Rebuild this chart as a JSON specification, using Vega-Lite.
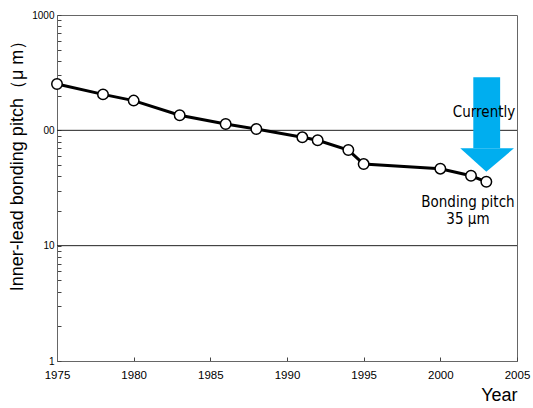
{
  "$schema": "https://vega.github.io/schema/vega-lite/v6.json",
  "width": 460,
  "height": 346,
  "autosize": "none",
  "padding": {"left": 57, "top": 15, "right": 16, "bottom": 47},
  "background": "white",
  "config": {
    "view": {"stroke": "#666", "strokeWidth": 1},
    "font": "Liberation Sans"
  },
  "datasets": {
    "pitch": [
      {"year": 1975, "pitch": 252},
      {"year": 1978, "pitch": 205},
      {"year": 1980, "pitch": 181},
      {"year": 1983, "pitch": 135},
      {"year": 1986, "pitch": 113.5},
      {"year": 1988, "pitch": 102.6},
      {"year": 1991, "pitch": 87},
      {"year": 1992, "pitch": 82},
      {"year": 1994, "pitch": 67.5},
      {"year": 1995, "pitch": 51},
      {"year": 2000, "pitch": 46.5},
      {"year": 2002, "pitch": 40.4},
      {"year": 2003, "pitch": 35.8}
    ],
    "grid": [{"v": 10}, {"v": 100}],
    "shaft": [{"x": 2002.15, "x2": 2003.9, "y": 288, "y2": 69.8}],
    "head": [
      {"x": 2001.3, "y": 69.8, "y2": 69.8},
      {"x": 2003.0, "y": 69.8, "y2": 43.8},
      {"x": 2004.8, "y": 69.8, "y2": 69.8}
    ],
    "labels": [
      {"x": 2002.85, "y": 145, "text": "Currently"},
      {"x": 2001.8, "y": 24, "text": "Bonding pitch"},
      {"x": 2001.8, "y": 17, "text": "35 µm"}
    ]
  },
  "layer": [
    {
      "data": {"name": "grid"},
      "mark": {"type": "rule", "color": "#222", "strokeWidth": 1},
      "encoding": {
        "y": {
          "field": "v",
          "type": "quantitative",
          "scale": {"type": "log", "domain": [1, 1000], "nice": false},
          "axis": {
            "values": [1,2,3,4,5,6,7,8,9,10,20,30,40,50,60,70,80,90,100,200,300,400,500,600,700,800,900,1000],
            "labelExpr": "datum.value == 1000 ? '1000' : datum.value == 100 ? '00' : datum.value == 10 ? '10' : datum.value == 1 ? '1' : ''",
            "tickSize": -4,
            "tickColor": "#444",
            "domainColor": "#666",
            "labelFontSize": 10,
            "labelColor": "#000",
            "labelPadding": 7,
            "labelBaseline": "middle",
            "grid": false,
            "title": "Inner-lead bonding pitch（μ m）",
            "titleFontSize": 18,
            "titleFontWeight": "normal",
            "titleColor": "#000",
            "titleX": -40,
            "titleY": 146,
            "titleAngle": -90,
            "titleBaseline": "middle",
            "titleAlign": "center"
          }
        }
      }
    },
    {
      "data": {"name": "pitch"},
      "mark": {"type": "line", "color": "#000", "strokeWidth": 3},
      "encoding": {
        "x": {
          "field": "year",
          "type": "quantitative",
          "scale": {"domain": [1975, 2005], "nice": false, "zero": false},
          "axis": {
            "values": [1975, 1980, 1985, 1990, 1995, 2000, 2005],
            "format": "d",
            "tickSize": -4,
            "tickColor": "#444",
            "domainColor": "#666",
            "grid": false,
            "labelFontSize": 11.5,
            "labelColor": "#000",
            "labelPadding": 12,
            "labelFlush": false,
            "title": "Year",
            "titleFontSize": 18,
            "titleFontWeight": "normal",
            "titleColor": "#000",
            "titleAnchor": "end",
            "titlePadding": 6
          }
        },
        "y": {"field": "pitch", "type": "quantitative"}
      }
    },
    {
      "data": {"name": "pitch"},
      "mark": {"type": "point", "shape": "circle", "filled": true, "fill": "white", "stroke": "#000", "strokeWidth": 1.5, "size": 110, "opacity": 1},
      "encoding": {
        "x": {"field": "year", "type": "quantitative"},
        "y": {"field": "pitch", "type": "quantitative"}
      }
    },
    {
      "data": {"name": "shaft"},
      "mark": {"type": "rect", "color": "#00AEEF"},
      "encoding": {
        "x": {"field": "x", "type": "quantitative"},
        "x2": {"field": "x2"},
        "y": {"field": "y", "type": "quantitative"},
        "y2": {"field": "y2"}
      }
    },
    {
      "data": {"name": "head"},
      "mark": {"type": "area", "color": "#00AEEF", "opacity": 1},
      "encoding": {
        "x": {"field": "x", "type": "quantitative"},
        "y": {"field": "y", "type": "quantitative"},
        "y2": {"field": "y2"}
      }
    },
    {
      "data": {"name": "labels"},
      "mark": {"type": "text", "font": "'DejaVu Sans Condensed', 'Liberation Sans', sans-serif", "fontSize": 15, "color": "#000", "align": "center", "baseline": "middle"},
      "encoding": {
        "x": {"field": "x", "type": "quantitative"},
        "y": {"field": "y", "type": "quantitative"},
        "text": {"field": "text"}
      }
    }
  ]
}
